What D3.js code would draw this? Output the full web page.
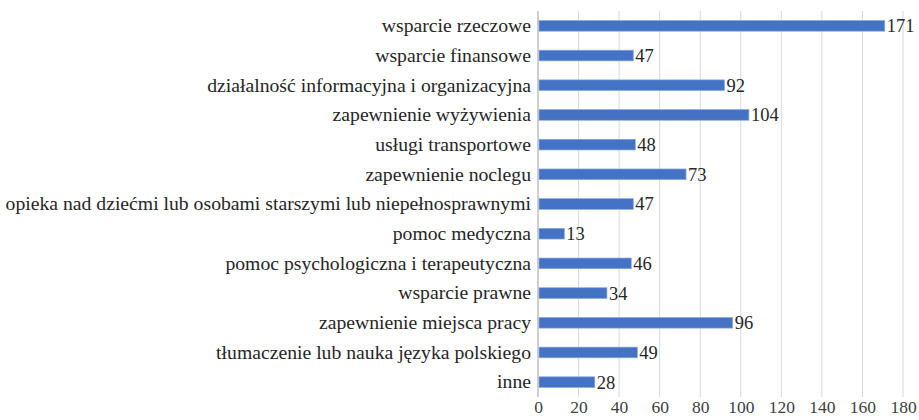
<!DOCTYPE html>
<html>
<head>
<meta charset="utf-8">
<script src="https://cdn.jsdelivr.net/npm/d3@7"></script>
<style>
  body { margin: 0; background: #fff; }
</style>
</head>
<body>
<div id="chart-area"></div>
<script>
// Chart data
var categories = [
    "wsparcie rzeczowe",
    "wsparcie finansowe",
    "działalność informacyjna i organizacyjna",
    "zapewnienie wyżywienia",
    "usługi transportowe",
    "zapewnienie noclegu",
    "opieka nad dziećmi lub osobami starszymi lub niepełnosprawnymi",
    "pomoc medyczna",
    "pomoc psychologiczna i terapeutyczna",
    "wsparcie prawne",
    "zapewnienie miejsca pracy",
    "tłumaczenie lub nauka języka polskiego",
    "inne"
];
var values = [171, 47, 92, 104, 48, 73, 47, 13, 46, 34, 96, 49, 28];
var xTicks = [0, 20, 40, 60, 80, 100, 120, 140, 160, 180];

var margin = { left: 538, right: 16, top: 11, bottom: 23 },
    width = 919 - margin.left - margin.right,
    height = 420 - margin.top - margin.bottom;

var svg = d3.select("#chart-area").append("svg")
    .attr("width", 919)
    .attr("height", 420);

var g = svg.append("g")
    .attr("transform", "translate(" + margin.left + "," + margin.top + ")");

var x = d3.scaleLinear().domain([0, 180]).range([0, width]);
var y = d3.scaleBand().domain(categories).range([0, height]).paddingInner(0.64).paddingOuter(0.32);

// Gridlines
g.selectAll(".grid").data(xTicks.slice(1))
    .enter().append("line")
    .attr("class", "grid")
    .attr("x1", function (d) { return x(d); })
    .attr("x2", function (d) { return x(d); })
    .attr("y1", 0)
    .attr("y2", height)
    .attr("stroke", "#d9d9d9")
    .attr("stroke-width", 1);

// Y axis (category labels) - default serif font
var yAxis = g.append("g")
    .call(d3.axisLeft(y).tickSize(0).tickPadding(7))
    .attr("font-family", null)
    .attr("font-size", null);
yAxis.select(".domain").remove();
var yLabels = yAxis.selectAll("text")
    .style("font-size", "17.5px")
    .attr("fill", "#262626");

// fit longest label to the width seen in the reference
var longest = d3.max(yLabels.nodes(), function (n) { return n.getComputedTextLength(); });
var fs = 17.5 * 526 / longest;
yLabels.style("font-size", fs + "px");

// X axis (labels only)
var xAxis = g.append("g")
    .attr("transform", "translate(0," + height + ")")
    .call(d3.axisBottom(x).tickValues(xTicks).tickSize(0).tickPadding(4))
    .attr("font-family", null)
    .attr("font-size", null);
xAxis.select(".domain").remove();
xAxis.selectAll("text")
    .style("font-size", "17.5px")
    .attr("fill", "#404040");

// Vertical axis line
g.append("line")
    .attr("x1", x(0)).attr("x2", x(0))
    .attr("y1", 0).attr("y2", height)
    .attr("stroke", "#bfbfbf")
    .attr("stroke-width", 1.5);

// Bars
g.selectAll(".bar").data(values)
    .enter().append("rect")
    .attr("class", "bar")
    .attr("x", x(0) + 1)
    .attr("y", function (d, i) { return y(categories[i]); })
    .attr("width", function (d) { return x(d) - x(0) - 1; })
    .attr("height", y.bandwidth())
    .attr("fill", "#4472c4")
    .attr("stroke", "#8eaadb")
    .attr("stroke-width", 0.7);

// Value labels
g.selectAll(".val").data(values)
    .enter().append("text")
    .attr("class", "val")
    .attr("x", function (d) { return x(d) + 2; })
    .attr("y", function (d, i) { return y(categories[i]) + y.bandwidth() / 2; })
    .attr("dy", "0.35em")
    .style("font-size", "18.5px")
    .attr("fill", "#262626")
    .text(function (d) { return d; });
</script>
</body>
</html>
